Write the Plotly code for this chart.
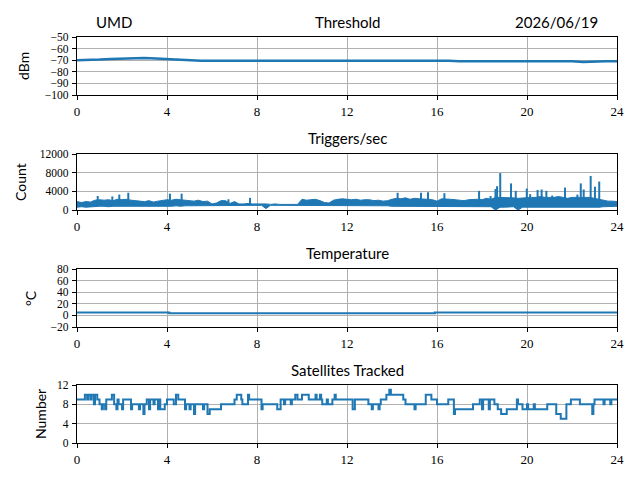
import plotly.graph_objects as go

# hours of day
thr_t = [i * 0.5 for i in range(49)]
thr_dbm = [-70, -70, -69.5, -69, -68.5, -68.5, -68, -68.5, -69, -70, -70.5, -70.5,
           -70.5, -70.5, -70.5, -70.5, -70.5, -70.5, -70.5, -70.5, -70.5, -70.5, -70, -70,
           -70, -70, -70, -70, -70.5, -70.5, -70.5, -70.5, -70.5, -70.5, -71, -71,
           -71, -71, -71, -71, -71, -71, -71, -70.5, -71, -71.5, -71, -71, -71]

trig_t = [round(i * 0.2, 1) for i in range(121)]
trig_hi = [1800, 1600, 1800, 1700, 2100,
           2200, 2100, 2200, 2000, 2300,
           2200, 2300, 2100, 2000, 1900,
           1800, 2000, 1700, 1900, 2100,
           2200, 2100, 2300, 2200, 2100,
           2000, 1900, 2100, 1800, 1900,
           1300, 1500, 2000, 2000, 1400,
           1800, 1300, 1300, 1400, 1300,
           1300, 1400, 1300, 1200, 1300,
           1200, 1200, 1200, 1100, 1200,
           2300, 2100, 2200, 2300, 2000,
           1600, 1500, 2100, 2300, 2400,
           2300, 2200, 2300, 2100, 2200,
           2200, 2000, 2100, 1900, 2000,
           2300, 2500, 2400, 2600, 2300,
           2500, 2400, 2400, 2300, 2200,
           1900, 2400, 2400, 2300, 2200,
           2100, 2000, 2200, 2300, 2300,
           2200, 2500, 2300, 2700, 2700,
           2700, 2700, 2600, 2500, 2600,
           2700, 2700, 2700, 2900, 2700,
           2700, 2700, 2900, 2700, 2500,
           2700, 2700, 2800, 2700, 2700,
           2500, 2300, 2100, 1900, 1900,
           1800]
trig_lo = [600, 700, 600, 700, 800,
           800, 800, 700, 800, 800,
           800, 700, 800, 800, 800,
           800, 800, 800, 800, 800,
           800, 800, 900, 800, 900,
           900, 900, 900, 900, 900,
           900, 1000, 900, 900, 1000,
           1000, 1000, 1000, 1000, 1000,
           1000, 1000, 300, 1000, 1000,
           1000, 1000, 1000, 1000, 1000,
           1000, 1000, 1000, 1000, 1000,
           1000, 1000, 900, 900, 900,
           900, 900, 900, 900, 900,
           900, 900, 900, 900, 900,
           800, 800, 800, 800, 800,
           800, 800, 800, 800, 800,
           800, 800, 800, 800, 800,
           800, 800, 800, 800, 800,
           700, 700, 700, 0, 600,
           600, 600, 700, 0, 600,
           600, 600, 600, 600, 600,
           600, 600, 600, 600, 600,
           600, 600, 500, 600, 600,
           600, 600, 700, 700, 800,
           800]
spike_t = [0.92, 1.57, 1.88, 2.28, 4.13, 4.65, 6.73, 7.69, 14.25, 15.29, 15.6, 16.33,
           17.87, 18.38, 18.6, 18.67, 18.81, 19.29, 19.5, 19.99, 20.14, 20.47, 20.65,
           20.86, 21.12, 21.32, 21.69, 22.24, 22.39, 22.52, 22.83, 23.02, 23.21]
spike_v = [3000, 2900, 3300, 3700, 3500, 3500, 2300, 2600, 3700, 3700, 3800, 3600,
           4100, 3000, 4500, 5100, 7900, 5700, 4100, 4600, 3400, 4300, 4400,
           4100, 3100, 2800, 4800, 3300, 5700, 4400, 7300, 5000, 6100]

temp_t = [0, 4.1, 4.1, 15.9, 15.9, 24]
temp_c = [5, 5, 3.5, 3.5, 5, 5]

sat_t = [0, 0.35, 0.45, 0.5, 0.6, 0.65, 0.75, 0.8, 0.9, 1.0, 1.1, 1.15, 1.25, 1.3, 1.55, 1.65,
         1.75, 1.8, 1.85, 2.0, 2.05, 2.4, 2.45, 2.75, 2.8, 2.95, 3.0, 3.1, 3.2, 3.25, 3.4,
         3.45, 3.6, 3.65, 3.7, 3.9, 4.0, 4.3, 4.4, 4.5, 4.8, 4.85, 5.0, 5.05, 5.2, 5.25,
         5.6, 5.65, 5.8, 5.9, 6.4, 7.0, 7.1, 7.3, 7.35, 7.6, 7.65, 7.95, 8.2, 8.25, 8.3,
         8.9, 9.05, 9.2, 9.25, 9.5, 9.55, 9.7, 9.8, 10.0, 10.3, 10.5, 10.6, 10.65, 10.8,
         10.85, 10.9, 11.1, 11.15, 11.35, 11.45, 11.5, 12.25, 12.35, 12.95, 13.1, 13.15,
         13.4, 13.45, 13.5, 13.75, 13.88, 13.95, 14.05, 14.5, 14.6, 14.7, 15.0, 15.05,
         15.5, 15.75, 16.0, 16.5, 16.75, 16.8, 16.85, 17.6, 17.9, 18.0, 18.05, 18.3,
         18.35, 18.55, 18.7, 18.85, 19.1, 19.55, 19.6, 19.8, 20.0, 20.05, 20.3, 20.35,
         20.55, 20.9, 21.3, 21.5, 21.75, 21.95, 22.35, 22.9, 22.95, 23.0, 23.4, 23.45,
         23.7, 23.75, 24]
sat_n = [9, 10, 9, 10, 9, 10, 8, 10, 9, 8, 7, 8, 7, 9, 10, 8,
         7, 9, 8, 7, 9, 7, 8, 7, 8, 6, 8, 9, 7, 9, 8,
         9, 7, 9, 7, 8, 9, 8, 10, 9, 7, 8, 7, 8, 6, 8,
         7, 8, 6, 7, 8, 9, 10, 9, 8, 10, 9, 9, 7, 8, 8,
         7, 9, 8, 9, 8, 9, 10, 9, 10, 9, 9, 10, 9, 10,
         9, 8, 9, 8, 9, 10, 9, 7, 9, 8, 7, 8,
         7, 8, 9, 10, 11, 10, 10, 9, 8, 8, 7, 8,
         10, 9, 8, 9, 6, 7, 7, 8, 9, 7, 9, 7,
         9, 8, 7, 6, 7, 9, 8, 7, 8, 7, 8, 7,
         7, 8, 6, 5, 8, 9, 8, 6, 8, 9, 8, 9,
         8, 9, 9]

blue = "#1f77b4"
serif = "Liberation Serif, DejaVu Serif, Times New Roman, serif"
sans = "Lato"

fig = go.Figure()
fig.add_trace(go.Scatter(x=thr_t, y=thr_dbm, mode="lines", line=dict(color=blue, width=2.5),
                         xaxis="x", yaxis="y"))
fig.add_trace(go.Scatter(x=trig_t, y=trig_lo, mode="lines", line=dict(color=blue, width=1),
                         xaxis="x2", yaxis="y2"))
fig.add_trace(go.Scatter(x=trig_t, y=trig_hi, mode="lines", line=dict(color=blue, width=1),
                         fill="tonexty", fillcolor=blue, xaxis="x2", yaxis="y2"))
sx, sy = [], []
for t, v in zip(spike_t, spike_v):
    sx += [t, t, None]
    sy += [1000, v, None]
fig.add_trace(go.Scatter(x=sx, y=sy, mode="lines", line=dict(color=blue, width=2),
                         xaxis="x2", yaxis="y2"))
fig.add_trace(go.Scatter(x=temp_t, y=temp_c, mode="lines", line=dict(color=blue, width=2),
                         xaxis="x3", yaxis="y3"))
fig.add_trace(go.Scatter(x=sat_t, y=sat_n, mode="lines", line=dict(color=blue, width=2, shape="hv"),
                         xaxis="x4", yaxis="y4"))

xdom = [77 / 640, 617 / 640]
ydoms = [[1 - 95 / 480, 1 - 37 / 480], [1 - 210 / 480, 1 - 154 / 480],
         [1 - 327 / 480, 1 - 269 / 480], [1 - 443 / 480, 1 - 385 / 480]]
yranges = [[-100, -50], [0, 12000], [-20, 80], [0, 12]]
ydticks = [10, 4000, 20, 4]

axcommon = dict(showline=True, linecolor="black", linewidth=1.2, mirror=True,
                ticks="outside", ticklen=4, tickcolor="black", automargin=False,
                showgrid=True, gridcolor="#b0b0b0", gridwidth=0.8, zeroline=False,
                tickfont=dict(family=serif, size=13, color="black"))
layout = dict(width=640, height=480, margin=dict(l=0, r=0, t=0, b=0),
              paper_bgcolor="white", plot_bgcolor="white", showlegend=False)
for i in range(4):
    sfx = "" if i == 0 else str(i + 1)
    layout["xaxis" + sfx] = dict(axcommon, domain=xdom, range=[0, 24], tick0=0, dtick=4,
                                 anchor="y" + sfx)
    layout["yaxis" + sfx] = dict(axcommon, domain=ydoms[i], range=yranges[i], tick0=0,
                                 dtick=ydticks[i], anchor="x" + sfx, tickformat="d",
                                 ticklabelstandoff=1,
                                 tickfont=dict(family=serif, size=11.5, color="black"))
fig.update_layout(layout)

tfont = dict(family=sans, size=15, color="black")
ann = [
    dict(text="Threshold", x=347 / 640, y=1 - 22 / 480),
    dict(text="UMD", x=114 / 640, y=1 - 22 / 480),
    dict(text="2026/06/19", x=556 / 640, y=1 - 22 / 480),
    dict(text="Triggers/sec", x=347 / 640, y=1 - 138 / 480),
    dict(text="Temperature", x=347 / 640, y=1 - 253 / 480),
    dict(text="Satellites Tracked", x=347 / 640, y=1 - 370 / 480),
]
for a in ann:
    fig.add_annotation(xref="paper", yref="paper", showarrow=False, font=tfont,
                       xanchor="center", yanchor="middle", **a)
ylabs = [("dBm", 24, 66), ("Count", 20, 182), ("°C", 30, 298), ("Number", 40, 414)]
for txt, px, py in ylabs:
    fig.add_annotation(xref="paper", yref="paper", showarrow=False, text=txt, textangle=-90,
                       x=px / 640, y=1 - py / 480, xanchor="center", yanchor="middle",
                       font=dict(family=sans, size=14, color="black"))

fig.write_html("out.html", config={"displayModeBar": False},
               post_script="document.body.style.margin='0';")
